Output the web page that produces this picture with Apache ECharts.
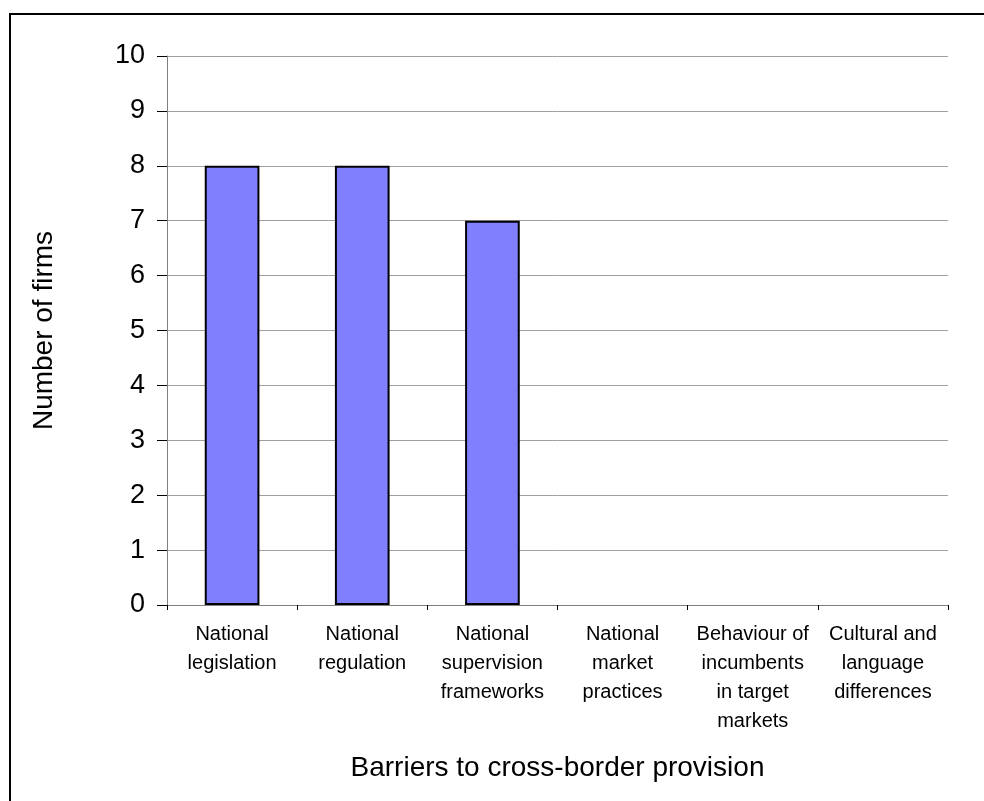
<!DOCTYPE html>
<html>
<head>
<meta charset="utf-8">
<title>Barriers to cross-border provision</title>
<script src="https://cdn.jsdelivr.net/npm/echarts@6/dist/echarts.min.js"></script>
<style>
  html, body { margin: 0; padding: 0; background: #ffffff; }
  #chart { width: 984px; height: 801px; }
</style>
</head>
<body>
<div id="chart"></div>
<script>
// Survey responses: barriers to cross-border provision
const categories = [
  'National\nlegislation',
  'National\nregulation',
  'National\nsupervision\nframeworks',
  'National\nmarket\npractices',
  'Behaviour of\nincumbents\nin target\nmarkets',
  'Cultural and\nlanguage\ndifferences'
];
const firmCounts = [8, 8, 7, 0, 0, 0];
const yTicks = { min: 0, max: 10, interval: 1 };

const chart = echarts.init(document.getElementById('chart'), null, { renderer: 'canvas' });
const font = 'Arial, "Liberation Sans", Helvetica, sans-serif';

// Zero-count bars have no height, so drop their outline
const barData = firmCounts.map(v => (
  v === 0 ? { value: v, itemStyle: { borderWidth: 0 } } : v
));

chart.setOption({
  animation: false,
  backgroundColor: '#ffffff',
  graphic: [{
    type: 'rect',
    shape: { x: 10, y: 14, width: 1000, height: 820 },
    style: { fill: 'none', stroke: '#000000', lineWidth: 2 },
    silent: true
  }],
  grid: { left: 167, right: 36, top: 56, bottom: 196, containLabel: false },
  xAxis: {
    type: 'category',
    data: categories,
    name: 'Barriers to cross-border provision',
    nameLocation: 'middle',
    nameGap: 149,
    nameTextStyle: { fontFamily: font, fontSize: 28, color: '#000000' },
    axisLine: { show: true, lineStyle: { color: '#808080', width: 1 } },
    axisTick: { show: true, alignWithLabel: false, length: 5, lineStyle: { color: '#000000' } },
    axisLabel: {
      interval: 0,
      margin: 15,
      fontFamily: font,
      fontSize: 20,
      lineHeight: 29,
      color: '#000000'
    },
    splitLine: { show: false }
  },
  yAxis: {
    type: 'value',
    min: yTicks.min,
    max: yTicks.max,
    interval: yTicks.interval,
    name: 'Number of firms',
    nameLocation: 'middle',
    nameGap: 109,
    nameRotate: 90,
    nameTextStyle: { fontFamily: font, fontSize: 28, color: '#000000' },
    axisLine: { show: true, lineStyle: { color: '#808080', width: 1 } },
    axisTick: { show: true, length: 10, lineStyle: { color: '#000000' } },
    axisLabel: { margin: 22, fontFamily: font, fontSize: 27, color: '#000000' },
    splitLine: { show: true, lineStyle: { color: '#a0a0a0', width: 1 } }
  },
  series: [{
    type: 'bar',
    data: barData,
    barWidth: '42%',
    itemStyle: { color: '#8080ff', borderColor: '#000000', borderWidth: 2 }
  }]
});
</script>
</body>
</html>
